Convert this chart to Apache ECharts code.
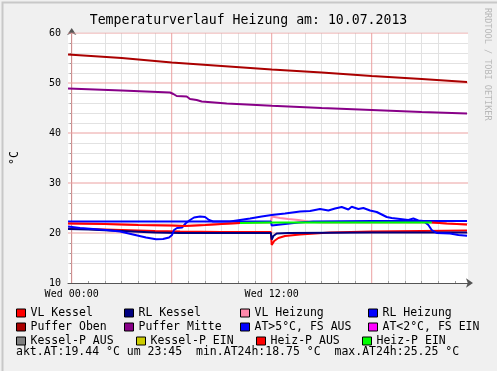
<!DOCTYPE html>
<html><head><meta charset="utf-8">
<script src="https://cdn.jsdelivr.net/npm/echarts@6/dist/echarts.min.js"></script>
<style>html,body{margin:0;padding:0;background:#f0f0f0}#c{width:497px;height:371px}</style>
</head><body><div id="c"></div>
<script>
const chartTitle = 'Temperaturverlauf Heizung am: 10.07.2013';
const xRange = [-0.2222, 23.7778];           // hours of 10.07.2013
const minorHourTicks = [1,2,3,4,5,7,8,9,10,11,13,14,15,16,17,19,20,21,22,23];
const majorHourTicks = [0, 6, 12, 18];
const xLabelHours = [0, 12];
const xTickLabels = { 0: 'Wed 00:00', 12: 'Wed 12:00' };
const yRange = [10, 60];
const minorYTicks = [12,14,16,18,22,24,26,28,32,34,36,38,42,44,46,48,52,54,56,58];
const majorYTicks = [20, 30, 40, 50, 60];
const yTickLabels = [10, 20, 30, 40, 50, 60];
const footerText = 'akt.AT:19.44 °C um 23:45  min.AT24h:18.75 °C  max.AT24h:25.25 °C';
const watermark = 'RRDTOOL / TOBI OETIKER';

const seriesNames = ['VL Kessel','RL Kessel','VL Heizung','RL Heizung','Puffer Oben','Puffer Mitte',
  'AT>5°C, FS AUS','AT<2°C, FS EIN','Kessel-P AUS','Kessel-P EIN','Heiz-P AUS','Heiz-P EIN'];
const seriesColors = ['#ff0000','#000080','#ff88aa','#0000ff','#aa0000','#880088',
  '#0000ff','#ff00ff','#808080','#cccc00','#ff0000','#00ff00'];

const vlKessel = [[-0.22,20.9],[1,20.8],[3,20.6],[5,20.4],[6.5,20.3],[9,20.2],[11.95,20.2],[12.0,17.6],[12.15,18.4],[12.4,19.0],[12.8,19.4],[13.7,19.7],[15.5,20.1],[18,20.3],[21,20.4],[23.72,20.5]];
const rlKessel = [[-0.22,20.8],[1,20.7],[3,20.4],[5,20.1],[6.5,20.0],[9,20.0],[11.95,20.0],[12.0,18.7],[12.1,19.4],[12.3,19.9],[13,20.0],[18,20.1],[23.72,20.1]];
const vlHeizung = [[-0.22,21.9],[2,21.8],[4,21.6],[6,21.5],[6.8,21.4],[8,21.6],[9,21.8],[10.1,22.0],[11.95,22.1],[12.0,23.3],[12.5,23.0],[13,22.8],[13.6,22.6],[14.2,22.3],[15,22.1],[21.6,22.1],[22.5,21.9],[23.72,21.7]];
const rlHeizung = [[-0.22,22.3],[6,22.3],[11.95,22.3],[12.0,21.5],[12.8,21.8],[13.6,22.1],[14.5,22.3],[18,22.4],[23.72,22.4]];
const pufferOben = [[-0.22,55.7],[3,55.0],[6,54.1],[9,53.4],[12,52.7],[15,52.1],[18,51.4],[21,50.8],[23.72,50.2]];
const pufferMitte = [[-0.22,48.9],[3,48.5],[5.9,48.1],[6.1,47.8],[6.3,47.4],[6.9,47.3],[7.1,46.8],[7.5,46.6],[7.8,46.3],[9.3,45.9],[12,45.45],[15,45.0],[18,44.6],[21,44.2],[23.72,43.9]];
const atWarm = [[-0.22,21.3],[0.5,21.0],[2.06,20.6],[2.9,20.3],[3.68,19.7],[4.46,19.1],[5.06,18.75],[5.48,18.8],[5.84,19.1],[6.02,19.6],[6.14,20.6],[6.32,21.0],[6.62,21.1],[6.86,22.0],[7.1,22.6],[7.34,23.1],[7.7,23.3],[8.0,23.2],[8.24,22.6],[8.48,22.3],[9.5,22.3],[10.1,22.6],[10.7,22.9],[11.4,23.3],[12.0,23.6],[12.8,23.9],[13.7,24.3],[14.3,24.4],[14.9,24.8],[15.4,24.5],[15.8,24.9],[16.2,25.2],[16.6,24.7],[16.8,25.25],[17.2,24.8],[17.5,25.0],[17.9,24.5],[18.3,24.2],[18.6,23.7],[18.9,23.2],[19.2,23.0],[19.7,22.8],[20.2,22.6],[20.5,22.9],[20.8,22.5],[21.1,22.4],[21.4,21.6],[21.6,20.6],[21.9,20.0],[22.7,19.9],[23.2,19.6],[23.72,19.44]];
const atCold = [];
const kesselPAus = [];
const kesselPEin = [];
const heizPAusMorning = [[-0.22,21.9],[2,21.8],[4,21.6],[6,21.5],[6.8,21.4],[8,21.6],[9,21.8],[10.1,22.0]];
const heizPAusEvening = [[21.6,22.1],[22.5,21.9],[23.72,21.7]];
const heizPEin = [[10.1,22.0],[12,22.1],[16,22.1],[21.6,22.1]];

const seriesData = [[vlKessel],[rlKessel],[vlHeizung],[rlHeizung],[pufferOben],[pufferMitte],
  [atWarm],[atCold],[kesselPAus],[kesselPEin],[heizPAusMorning, heizPAusEvening],[heizPEin]];

const mono = 'DejaVu Sans Mono';
const minorGrid = '#e2e2e2';
const majorGrid = '#eba0a0';

// major grid lines, built from the tick arrays, drawn under the data
const series = [];
majorHourTicks.forEach(h => series.push({
  type: 'line', data: [[h, yRange[0]], [h, yRange[1]]], silent: true, showSymbol: false, symbol: 'none',
  lineStyle: { color: majorGrid, width: 1 }, z: 1
}));
majorYTicks.forEach(v => series.push({
  type: 'line', data: [[xRange[0], v], [xRange[1], v]], silent: true, showSymbol: false, symbol: 'none',
  lineStyle: { color: majorGrid, width: 1 }, z: 1
}));
seriesNames.forEach((name, i) => {
  seriesData[i].forEach(d => {
    series.push({
      name, type: 'line', data: d, color: seriesColors[i],
      showSymbol: false, symbol: 'none', silent: true,
      lineStyle: { width: 2, color: seriesColors[i] },
      z: 5 + i * 0.01
    });
  });
});

// legend positions (rrdtool justified rows)
const legendPos = [[16,307],[124,307],[240,307],[368,307],
                   [16,321],[124,321],[240,321],[368,321],
                   [16,335],[136,335],[256,335],[362,335]];
const legends = seriesNames.map((name, i) => ({
  data: [name], left: legendPos[i][0], top: legendPos[i][1], padding: 0,
  icon: 'rect', itemWidth: 9, itemHeight: 8, selectedMode: false,
  itemStyle: { borderColor: '#000', borderWidth: 1 },
  textStyle: { fontFamily: mono, fontSize: 11.5, color: '#000', padding: [0,0,0,0] }
}));

const chart = echarts.init(document.getElementById('c'), null, { renderer: 'canvas' });
chart.setOption({
  animation: false,
  backgroundColor: '#f0f0f0',
  title: {
    text: chartTitle, left: 'center', top: 9,
    textStyle: { fontFamily: mono, fontSize: 13.2, fontWeight: 'normal', color: '#000' }
  },
  legend: legends,
  grid: { left: 68, top: 33, width: 400, height: 250, show: true, backgroundColor: '#ffffff', borderWidth: 0 },
  xAxis: {
    type: 'value', min: xRange[0], max: xRange[1],
    axisLine: { show: true, onZero: false, lineStyle: { color: '#555', width: 1 }, symbol: ['none','arrow'], symbolSize: [7,7], symbolOffset: [0, 5] },
    axisTick: { show: true, length: 2, inside: true, customValues: minorHourTicks, lineStyle: { color: '#999' } },
    axisLabel: { fontFamily: mono, fontSize: 10, color: '#000', margin: 6, customValues: xLabelHours,
      formatter: v => xTickLabels[Math.round(v)] || '' },
    splitLine: { show: true, showMinLine: false, showMaxLine: false, lineStyle: { color: minorGrid, width: 1 } }
  },
  yAxis: {
    type: 'value', min: yRange[0], max: yRange[1],
    name: '°C', nameLocation: 'middle', nameGap: 47, nameRotate: 90,
    nameTextStyle: { fontFamily: mono, fontSize: 11.5, color: '#000' },
    axisLine: { show: true, lineStyle: { color: '#555', width: 1 }, symbol: ['none','arrow'], symbolSize: [7,7], symbolOffset: [0, 5] },
    axisTick: { show: true, length: 2, customValues: minorYTicks, lineStyle: { color: '#999' } },
    axisLabel: { fontFamily: mono, fontSize: 10, color: '#000', margin: 7, customValues: yTickLabels,
      formatter: v => String(v) },
    splitLine: { show: true, showMinLine: false, lineStyle: { color: minorGrid, width: 1 } }
  },
  graphic: [
    { type: 'rect', left: 0, top: 0, z: -10, silent: true,
      shape: { width: 497, height: 371 },
      style: { fill: 'none', stroke: '#c8c8c8', lineWidth: 2 } },
    { type: 'text', x: 16, y: 352, silent: true,
      style: { text: footerText, fontFamily: mono, fontSize: 11.5, fill: '#000', verticalAlign: 'middle' } },
    { type: 'text', x: 487, y: 8, rotation: -Math.PI/2, silent: true,
      style: { text: watermark, fontFamily: mono, fontSize: 8.5, fill: '#b8b8b8', verticalAlign: 'middle' } }
  ],
  series
});
</script></body></html>
